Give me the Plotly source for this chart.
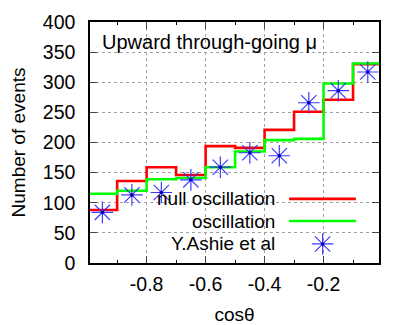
import plotly.graph_objects as go

# cos(theta) bins, lower edges, width 0.1
bin_lo = [-1.0, -0.9, -0.8, -0.7, -0.6, -0.5, -0.4, -0.3, -0.2, -0.1]
bin_hi_last = 0.0
bin_mid = [-0.95, -0.85, -0.75, -0.65, -0.55, -0.45, -0.35, -0.25, -0.15, -0.05]

null_osc = [88, 136, 159, 146, 194, 191, 221, 251, 271, 330]
osc = [115, 120, 139, 141, 159, 185, 204, 206, 298, 331]
ashie = [84, 113, 117, 138, 159, 183, 178, 266, 286, 317]

x_tickvals = [-0.8, -0.6, -0.4, -0.2]
x_ticktext = ["-0.8", "-0.6", "-0.4", "-0.2"]

legend_names = ["null oscillation", "oscillation", "Y.Ashie et al"]

FONT = "Liberation Sans, Arial, sans-serif"
STAR = "rgba(40,40,255,0.9)"


def steps(vals):
    return bin_lo + [bin_hi_last], vals + [vals[-1]]


def star_marker():
    return dict(symbol="asterisk-open", size=18, color=STAR, line=dict(color=STAR, width=1.2))


fig = go.Figure()

x, y = steps(null_osc)
fig.add_trace(go.Scatter(x=x, y=y, mode="lines", line=dict(color="#ff0000", width=2.6, shape="hv"),
                         showlegend=False))
x, y = steps(osc)
fig.add_trace(go.Scatter(x=x, y=y, mode="lines", line=dict(color="#00ff00", width=2.6, shape="hv"),
                         showlegend=False))
fig.add_trace(go.Scatter(x=bin_mid, y=ashie, mode="markers", marker=star_marker(), showlegend=False))
fig.add_trace(go.Scatter(x=bin_mid, y=ashie, mode="markers",
                         marker=dict(symbol="circle", size=3.5, color="#0000b0"), showlegend=False))

# hand-placed key, text right-aligned with the sample on the right (gnuplot style)
rows = [0.266, 0.174, 0.079]
for name, ry in zip(legend_names, rows):
    fig.add_annotation(xref="paper", yref="paper", x=0.648, y=ry, text=name, showarrow=False,
                       xanchor="right", yanchor="middle", font=dict(family=FONT, size=19, color="black"))
fig.add_trace(go.Scatter(x=[0.689, 0.920], y=[rows[0], rows[0]], xaxis="x2", yaxis="y2", mode="lines",
                         line=dict(color="#ff0000", width=2.6), showlegend=False))
fig.add_trace(go.Scatter(x=[0.689, 0.920], y=[rows[1], rows[1]], xaxis="x2", yaxis="y2", mode="lines",
                         line=dict(color="#00ff00", width=2.6), showlegend=False))
fig.add_trace(go.Scatter(x=[0.805], y=[rows[2]], xaxis="x2", yaxis="y2", mode="markers",
                         marker=star_marker(), showlegend=False))
fig.add_trace(go.Scatter(x=[0.805], y=[rows[2]], xaxis="x2", yaxis="y2", mode="markers",
                         marker=dict(symbol="circle", size=3.5, color="#0000b0"), showlegend=False))

fig.add_annotation(xref="paper", yref="paper", x=0.036, y=0.915, text="Upward through-going μ",
                   showarrow=False, xanchor="left", yanchor="middle",
                   font=dict(family=FONT, size=20, color="black"))

# page body has an 8px margin, so the figure is 8px smaller than the window
fig.update_layout(
    width=406, height=317,
    margin=dict(l=82, r=35, t=14, b=62, autoexpand=False),
    plot_bgcolor="white", paper_bgcolor="white",
    font=dict(family=FONT, size=19.5, color="black"),
    xaxis=dict(range=[-0.992, -0.012], tickvals=x_tickvals, ticktext=x_ticktext,
               ticks="inside", ticklen=7, tickwidth=1,
               showline=True, linecolor="black", linewidth=1.5, mirror="allticks",
               showgrid=True, gridcolor="#a0a0a0", griddash="dot", gridwidth=1, zeroline=False,
               minor=dict(tick0=0, dtick=0.1, ticks="inside", ticklen=3.5, tickcolor="black", showgrid=False),
               ticklabelstandoff=3, automargin=False,
               title=dict(text="cosθ", font=dict(size=19), standoff=18)),
    yaxis=dict(range=[0, 400], dtick=50, ticks="inside", ticklen=7, tickwidth=1,
               showline=True, linecolor="black", linewidth=1.5, mirror="allticks",
               showgrid=True, gridcolor="#a0a0a0", griddash="dot", gridwidth=1, zeroline=False,
               ticklabelstandoff=9, automargin=False,
               title=dict(text="Number of events", font=dict(size=19), standoff=12)),
    xaxis2=dict(range=[0, 1], overlaying="x", visible=False),
    yaxis2=dict(range=[0, 1], overlaying="y", visible=False),
)

fig.write_html("out.html")
